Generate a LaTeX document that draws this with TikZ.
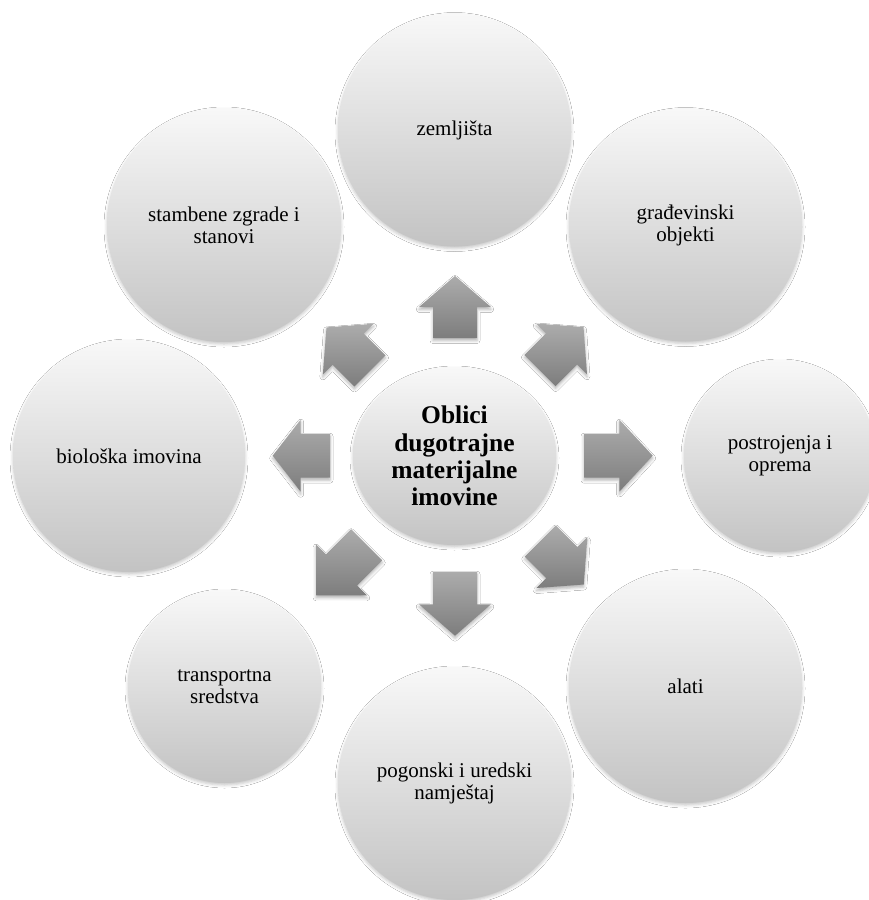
\documentclass[tikz,border=0pt]{standalone}
\usepackage{fontspec}
\setmainfont{Liberation Serif}
\usetikzlibrary{shapes.geometric,shadows.blur,calc}
\definecolor{bubtop}{HTML}{F8F8F8}
\definecolor{bubbot}{HTML}{C3C3C3}
\definecolor{arrtop}{HTML}{ACACAC}
\definecolor{arrbot}{HTML}{7D7D7D}
\tikzset{
  softshadow/.style={blur shadow={shadow xshift=0pt, shadow yshift=-2pt, shadow blur radius=3pt, shadow opacity=22}},
  bubble/.style={circle, inner sep=0pt, align=center, draw=none,
    top color=bubtop, bottom color=bubbot, softshadow,
    font=\fontsize{21}{22}\selectfont},
  hub/.style={ellipse, inner sep=0pt, align=center, draw=none,
    top color=bubtop, bottom color=bubbot, softshadow,
    minimum width=203pt, minimum height=178pt,
    font=\fontsize{25.5}{27.4}\selectfont\bfseries},
  blockarrow/.style={draw=none, top color=arrtop, bottom color=arrbot,
    blur shadow={shadow xshift=0pt, shadow yshift=-2.5pt, shadow blur radius=3pt, shadow opacity=30}}
}
% base x, base y, angle, length, head length
\newcommand{\blockarr}[5]{%
  \coordinate (ab) at (#1,#2);
  \path[blockarrow]
    ($(ab)+(#3-90:22)$)
    -- ($(ab)+(#3:#4-#5)+(#3-90:22)$)
    -- ($(ab)+(#3:#4-#5)+(#3-90:36)$)
    -- ($(ab)+(#3:#4)$)
    -- ($(ab)+(#3:#4-#5)+(#3+90:36)$)
    -- ($(ab)+(#3:#4-#5)+(#3+90:22)$)
    -- ($(ab)+(#3+90:22)$) -- cycle;}
\begin{document}
\begin{tikzpicture}[x=1pt, y=-1pt]
  \fill[white] (0,0) rectangle (869,900);
  \useasboundingbox (0,0) rectangle (869,900);

  % outer circles
  \node[bubble, minimum size=233pt] (zem) at (454.5,130) {zemljišta};
  \node[bubble, minimum size=233pt] (gra) at (685.5,225) {građevinski\\objekti};
  \node[bubble, minimum size=192pt] (pos) at (780,456) {postrojenja i\\oprema};
  \node[bubble, minimum size=233pt] (ala) at (685.5,686.5) {alati};
  \node[bubble, minimum size=233pt] (pog) at (454.5,783.5) {pogonski i uredski\\namještaj};
  \node[bubble, minimum size=193pt] (tra) at (224.5,686.5) {transportna\\sredstva};
  \node[bubble, minimum size=232pt] (bio) at (129,456) {biološka imovina};
  \node[bubble, minimum size=234pt] (sta) at (224,225) {stambene zgrade i\\stanovi};

  % centre
  \node[hub] (hub) at (454.5,456) {Oblici\\dugotrajne\\materijalne\\imovine};

  % block arrows (angles measured on the page, counter-clockwise)
  \blockarr{455}{338}{-90}{62}{31}
  \blockarr{540}{370.5}{-45}{61.5}{31}
  \blockarr{584}{455.7}{0}{68.7}{33.4}
  \blockarr{540.3}{541}{45}{61.5}{31}
  \blockarr{455}{571.7}{90}{64}{31.4}
  \blockarr{366.7}{544.7}{135}{71.5}{35.8}
  \blockarr{330}{455.7}{180}{57.3}{28}
  \blockarr{370}{370.9}{-135}{61.5}{30.8}
\end{tikzpicture}
\end{document}
